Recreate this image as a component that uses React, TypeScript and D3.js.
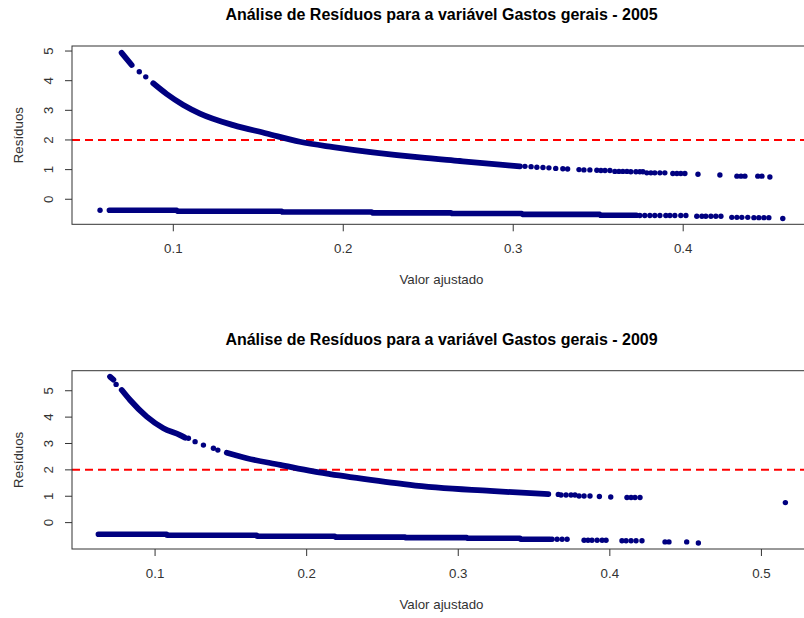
import React from 'react';
import * as d3 from 'd3';

type Pt = [number, number];

// ---- 2005: fitted value (x) vs residual (y) ----
// dense stretches are read as knots and drawn as a thick band, sparse ones as single dots
const upper2005Bands: Pt[][] = [
  [[0.0696, 4.94], [0.0755, 4.53]],
  [
    [0.0882, 3.91], [0.0961, 3.55], [0.1059, 3.18], [0.1157, 2.89], [0.1353, 2.5],
    [0.1549, 2.22], [0.1745, 1.94], [0.1941, 1.76], [0.2451, 1.41], [0.2686, 1.29],
    [0.2922, 1.17], [0.3039, 1.11],
  ],
];
const upper2005Dots: Pt[] = [
  [0.08, 4.3], [0.0838, 4.13],
  [0.3069, 1.11], [0.3105, 1.1], [0.3139, 1.08], [0.3175, 1.07], [0.321, 1.06], [0.325, 1.04],
  [0.3292, 1.03], [0.332, 1.02], [0.3387, 1.0], [0.3416, 0.99], [0.3451, 0.99], [0.3492, 0.98],
  [0.3516, 0.97], [0.354, 0.97], [0.3569, 0.97], [0.3598, 0.94], [0.3622, 0.94], [0.3645, 0.94],
  [0.3669, 0.94], [0.3692, 0.93], [0.3722, 0.93], [0.3745, 0.93], [0.3763, 0.93], [0.3786, 0.89],
  [0.381, 0.89], [0.3833, 0.89], [0.3863, 0.89], [0.3892, 0.89], [0.3939, 0.87], [0.3963, 0.87],
  [0.3986, 0.87], [0.401, 0.87], [0.4087, 0.845], [0.4216, 0.82], [0.4316, 0.78], [0.434, 0.78],
  [0.4363, 0.78], [0.4439, 0.78], [0.4463, 0.78], [0.451, 0.75],
];
const lower2005Bands: Pt[][] = [
  [
    [0.0624, -0.37], [0.102, -0.37], [0.1025, -0.405], [0.1638, -0.405], [0.1642, -0.43],
    [0.2167, -0.43], [0.2172, -0.46], [0.2634, -0.46], [0.2639, -0.48], [0.305, -0.48],
    [0.3054, -0.51], [0.3509, -0.51], [0.3514, -0.54], [0.3725, -0.54],
  ],
];
const lower2005Dots: Pt[] = [
  [0.0569, -0.37],
  [0.3745, -0.55], [0.3774, -0.55], [0.3804, -0.55], [0.3833, -0.55], [0.3863, -0.55], [0.3898, -0.55],
  [0.3922, -0.55], [0.3951, -0.55], [0.3986, -0.55], [0.4016, -0.55],
  [0.408, -0.574], [0.411, -0.574], [0.4133, -0.574], [0.4163, -0.574], [0.4192, -0.574], [0.4222, -0.574],
  [0.4286, -0.61], [0.4316, -0.61], [0.4345, -0.61], [0.438, -0.61],
  [0.4416, -0.62], [0.4445, -0.62], [0.4475, -0.62], [0.4504, -0.62], [0.4586, -0.65],
];

// ---- 2009 ----
const upper2009Bands: Pt[][] = [
  [[0.0703, 5.53], [0.0725, 5.42]],
  [[0.078, 5.03], [0.0835, 4.65], [0.0945, 4.02], [0.1055, 3.58], [0.1165, 3.32], [0.1198, 3.22]],
  [
    [0.1473, 2.65], [0.1605, 2.44], [0.1825, 2.19], [0.2044, 1.94], [0.2154, 1.84],
    [0.2617, 1.48], [0.2682, 1.43], [0.321, 1.2], [0.3594, 1.08],
  ],
];
const upper2009Dots: Pt[] = [
  [0.0743, 5.24],
  [0.122, 3.2], [0.1264, 3.07], [0.1319, 2.94], [0.1385, 2.82], [0.1414, 2.75],
  [0.366, 1.07], [0.3678, 1.05], [0.3711, 1.05], [0.3744, 1.05], [0.377, 1.05],
  [0.3797, 1.01], [0.383, 1.01], [0.3869, 1.01], [0.3931, 0.99], [0.4006, 0.97],
  [0.4113, 0.95], [0.414, 0.95], [0.4166, 0.95], [0.4199, 0.95],
  [0.5158, 0.76],
];
const lower2009Bands: Pt[][] = [
  [
    [0.0626, -0.44], [0.1077, -0.44], [0.1079, -0.48], [0.1671, -0.48], [0.1673, -0.515],
    [0.2187, -0.515], [0.219, -0.55], [0.2649, -0.55], [0.2652, -0.57], [0.3056, -0.57],
    [0.3059, -0.59], [0.3408, -0.59], [0.3411, -0.63], [0.3605, -0.63],
  ],
];
const lower2009Dots: Pt[] = [
  [0.3619, -0.63], [0.3652, -0.63], [0.3685, -0.63], [0.3718, -0.63],
  [0.383, -0.67], [0.3856, -0.67], [0.3882, -0.67], [0.3916, -0.67], [0.3949, -0.67], [0.3975, -0.67],
  [0.408, -0.69], [0.4107, -0.69], [0.414, -0.69], [0.4173, -0.69], [0.4212, -0.69],
  [0.4364, -0.73], [0.439, -0.73], [0.4507, -0.73], [0.4584, -0.77],
];

const xTicks2005 = [0.1, 0.2, 0.3, 0.4];
const xTicks2009 = [0.1, 0.2, 0.3, 0.4, 0.5];
const yTicks = [0, 1, 2, 3, 4, 5];
const cutoff = 2;

const FONT = "'Liberation Sans', Arial, Helvetica, sans-serif";
const NAVY = '#000080';

type PanelProps = {
  top: number;
  title: string;
  upperBands: Pt[][];
  lowerBands: Pt[][];
  dots: Pt[];
  xDomain: [number, number];
  yDomain: [number, number];
  xTicks: number[];
};

const Panel = ({ top, title, upperBands, lowerBands, dots, xDomain, yDomain, xTicks }: PanelProps) => {
  const left = 72;
  const right = 811;
  const h = 178.3;
  const x = d3.scaleLinear().domain(xDomain).range([left, right]);
  const y = d3.scaleLinear().domain(yDomain).range([top + h, top]);
  // upper curve is smooth, lower one steps
  const smooth = d3.line<Pt>().x((d) => x(d[0])).y((d) => y(d[1])).curve(d3.curveMonotoneX);
  const steps = d3.line<Pt>().x((d) => x(d[0])).y((d) => y(d[1]));
  const midX = (left + right) / 2;
  const midY = top + h / 2;

  return (
    <g fontFamily={FONT}>
      <text x={midX} y={top - 26} textAnchor="middle" fontWeight="bold" fontSize={16} fill="#000">
        {title}
      </text>

      <line x1={left} x2={right} y1={y(cutoff)} y2={y(cutoff)} stroke="#ff0000" strokeWidth={2} strokeDasharray="8,5" />

      {upperBands.map((b, i) => (
        <path key={'u' + i} d={smooth(b) || ''} fill="none" stroke={NAVY} strokeWidth={5.8}
          strokeLinecap="round" strokeLinejoin="round" />
      ))}
      {lowerBands.map((b, i) => (
        <path key={'l' + i} d={steps(b) || ''} fill="none" stroke={NAVY} strokeWidth={5.6}
          strokeLinecap="round" strokeLinejoin="round" />
      ))}
      {dots.map((d, i) => (
        <circle key={'d' + i} cx={x(d[0])} cy={y(d[1])} r={2.7} fill={NAVY} />
      ))}

      <rect x={left} y={top} width={right - left} height={h} fill="none" stroke="#333" strokeWidth={1} />

      {xTicks.map((t) => (
        <g key={'x' + t}>
          <line x1={x(t)} x2={x(t)} y1={top + h} y2={top + h + 7} stroke="#333" />
          <text x={x(t)} y={top + h + 29} textAnchor="middle" fontSize={13.3} fill="#333">
            {d3.format('.1f')(t)}
          </text>
        </g>
      ))}
      {yTicks.map((t) => (
        <g key={'y' + t}>
          <line x1={left - 7} x2={left} y1={y(t)} y2={y(t)} stroke="#333" />
          <text transform={`translate(53,${y(t)}) rotate(-90)`} textAnchor="middle" fontSize={13.3} fill="#333">
            {t}
          </text>
        </g>
      ))}

      <text x={midX} y={top + h + 60} textAnchor="middle" fontSize={13.3} fill="#333">
        Valor ajustado
      </text>
      <text transform={`translate(23,${midY}) rotate(-90)`} textAnchor="middle" fontSize={13.3} fill="#333">
        Resíduos
      </text>
    </g>
  );
};

export default function App() {
  return (
    <svg width={804} height={618} style={{ position: 'absolute', left: 0, top: 0, background: '#fff' }}>
      <rect width={804} height={618} fill="#fff" />
      <Panel
        top={46}
        title="Análise de Resíduos para a variável Gastos gerais - 2005"
        upperBands={upper2005Bands}
        lowerBands={lower2005Bands}
        dots={[...upper2005Dots, ...lower2005Dots]}
        xDomain={[0.0404, 0.4752]}
        yDomain={[-0.845, 5.17]}
        xTicks={xTicks2005}
      />
      <Panel
        top={370.7}
        title="Análise de Resíduos para a variável Gastos gerais - 2009"
        upperBands={upper2009Bands}
        lowerBands={lower2009Bands}
        dots={[...upper2009Dots, ...lower2009Dots]}
        xDomain={[0.0452, 0.5327]}
        yDomain={[-1.0, 5.76]}
        xTicks={xTicks2009}
      />
    </svg>
  );
}
